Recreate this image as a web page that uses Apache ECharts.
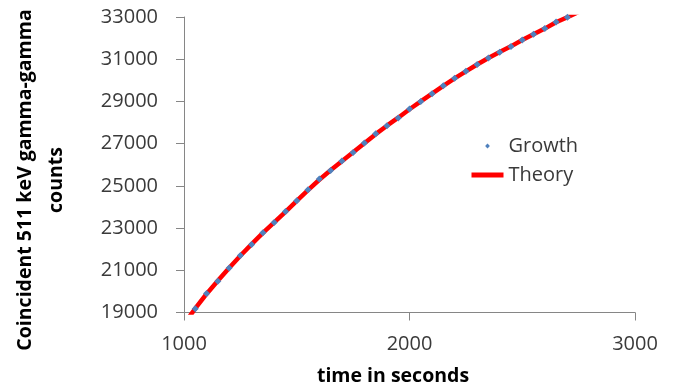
<!DOCTYPE html>
<html>
<head>
<meta charset="utf-8">
<script src="https://cdn.jsdelivr.net/npm/echarts@6/dist/echarts.min.js"></script>
<style>
  html, body { margin: 0; padding: 0; background: #ffffff; }
  #chart { width: 677px; height: 387px; }
</style>
</head>
<body>
<div id="chart"></div>
<script>
// Measured coincidence counts (Growth) every 50 s
const growthTimes = [1050, 1100, 1150, 1200, 1250, 1300, 1350, 1400, 1450, 1500,
  1550, 1600, 1650, 1700, 1750, 1800, 1850, 1900, 1950, 2000,
  2050, 2100, 2150, 2200, 2250, 2300, 2350, 2400, 2450, 2500,
  2550, 2600, 2650, 2700];
const growthCounts = [19175, 19900, 20480, 21110, 21700, 22220, 22780, 23260, 23780, 24300,
  24820, 25320, 25730, 26180, 26580, 27030, 27470, 27850, 28220, 28640,
  29000, 29360, 29740, 30100, 30430, 30750, 31060, 31330, 31600, 31910,
  32180, 32450, 32760, 32990];

// Theoretical growth curve
const theoryTimes = [1000, 1050, 1100, 1150, 1200, 1250, 1300, 1350, 1400, 1450, 1500,
  1550, 1600, 1650, 1700, 1750, 1800, 1850, 1900, 1950, 2000,
  2050, 2100, 2150, 2200, 2250, 2300, 2350, 2400, 2450, 2500,
  2550, 2600, 2650, 2700, 2750];
const theoryCounts = [18450, 19190, 19880, 20500, 21110, 21690, 22240, 22770, 23270, 23770, 24290,
  24800, 25290, 25740, 26170, 26590, 27020, 27450, 27850, 28230, 28630,
  29000, 29370, 29740, 30090, 30420, 30750, 31060, 31340, 31610, 31910,
  32180, 32450, 32750, 32990, 33240];

// Axis ranges and labels
const xRange = { min: 1000, max: 3000, step: 1000 };
const yRange = { min: 19000, max: 33000, step: 2000 };
const xTitle = 'time in seconds';
const yTitle = 'Coincident 511 keV gamma-gamma\ncounts';
const seriesNames = ['Growth', 'Theory'];

const growthData = growthTimes.map((t, i) => [t, growthCounts[i]]);
const theoryData = theoryTimes.map((t, i) => [t, theoryCounts[i]]);

const axisColor = '#868686';
const labelColor = '#3a3a3a';
const labelFont = { fontFamily: 'Open Sans', fontSize: 20, color: labelColor };
const plainNumber = (v) => String(v);

const chart = echarts.init(document.getElementById('chart'), null, { renderer: 'canvas' });

chart.setOption({
  animation: false,
  backgroundColor: '#ffffff',
  grid: { left: 184, right: 42, top: 17, bottom: 74.5, containLabel: false },
  xAxis: {
    type: 'value',
    min: xRange.min, max: xRange.max, interval: xRange.step,
    axisLine: { show: true, onZero: false, lineStyle: { color: axisColor, width: 1 } },
    axisTick: { show: true, inside: false, length: 8, lineStyle: { color: axisColor } },
    splitLine: { show: false },
    axisLabel: Object.assign({ margin: 22, formatter: plainNumber }, labelFont)
  },
  yAxis: {
    type: 'value',
    min: yRange.min, max: yRange.max, interval: yRange.step,
    axisLine: { show: true, onZero: false, lineStyle: { color: axisColor, width: 1 } },
    axisTick: { show: true, inside: false, length: 8, lineStyle: { color: axisColor } },
    splitLine: { show: false },
    axisLabel: Object.assign({ margin: 26, formatter: plainNumber }, labelFont)
  },
  legend: {
    orient: 'vertical',
    left: 469,
    top: 136,
    padding: 0,
    itemWidth: 32,
    itemHeight: 6,
    itemGap: 9,
    data: [
      { name: seriesNames[0] },
      { name: seriesNames[1], itemStyle: { opacity: 0 }, lineStyle: { width: 5 } }
    ],
    textStyle: { fontFamily: 'Open Sans', fontSize: 20, color: labelColor }
  },
  graphic: [
    {
      type: 'text',
      x: 40.5, y: 180,
      rotation: Math.PI / 2,
      style: {
        text: yTitle,
        fontFamily: 'Open Sans', fontWeight: 'bold', fontSize: 19.5,
        lineHeight: 31,
        fill: '#000000',
        align: 'center', verticalAlign: 'middle'
      }
    },
    {
      type: 'text',
      x: 393, y: 376.5,
      style: {
        text: xTitle,
        fontFamily: 'Open Sans', fontWeight: 'bold', fontSize: 19.5,
        fill: '#000000',
        align: 'center', verticalAlign: 'middle'
      }
    }
  ],
  series: [
    {
      name: seriesNames[1],
      type: 'line',
      data: theoryData,
      showSymbol: false,
      symbol: 'none',
      clip: true,
      lineStyle: { color: '#ff0000', width: 4.5 },
      itemStyle: { color: '#ff0000' },
      emphasis: { disabled: true },
      z: 2
    },
    {
      name: seriesNames[0],
      type: 'line',
      data: growthData,
      symbol: 'diamond',
      symbolSize: 7,
      showSymbol: true,
      lineStyle: { width: 0, opacity: 0 },
      itemStyle: { color: '#4f81bd' },
      emphasis: { disabled: true },
      z: 3
    }
  ]
});
</script>
</body>
</html>
